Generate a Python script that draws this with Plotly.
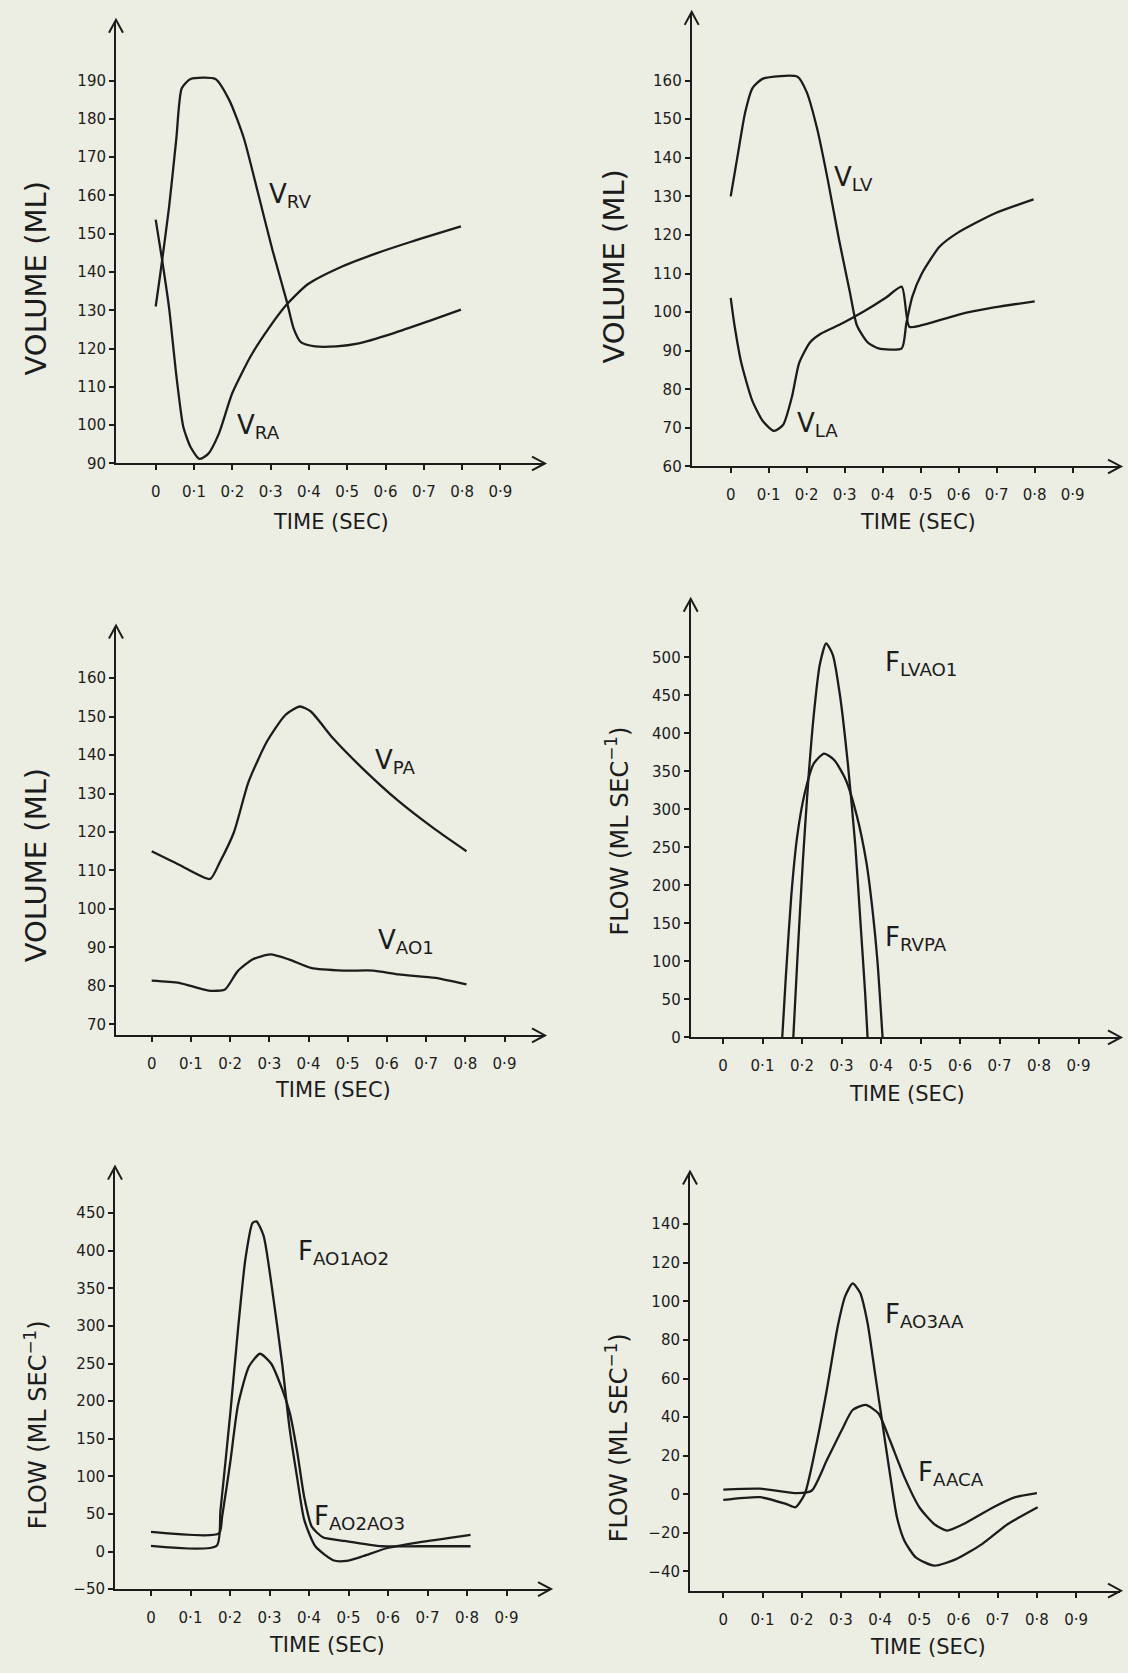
import plotly.graph_objects as go

# ---------------- data ----------------
x_tick_vals = [0, 0.1, 0.2, 0.3, 0.4, 0.5, 0.6, 0.7, 0.8, 0.9]
x_tick_text = ["0", "0·1", "0·2", "0·3", "0·4", "0·5", "0·6", "0·7", "0·8", "0·9"]

# Panel 1: right heart volumes
t_rv = [0, 0.012, 0.035, 0.054, 0.068, 0.091, 0.156, 0.193, 0.23, 0.267, 0.305, 0.342, 0.36, 0.379, 0.416, 0.472, 0.527, 0.62, 0.713, 0.797]
v_rv = [131, 139.5, 157, 175, 188, 190.4, 190.4, 184.7, 175, 160.7, 145.7, 132.4, 125.3, 121.7, 120.6, 120.6, 121.3, 124, 127.2, 130.2]
t_ra = [0, 0.017, 0.035, 0.054, 0.072, 0.091, 0.114, 0.137, 0.165, 0.2, 0.249, 0.295, 0.342, 0.397, 0.481, 0.574, 0.667, 0.797]
v_ra = [153.7, 143, 130.6, 112.9, 99.6, 94.3, 91.2, 92.5, 97.8, 108.4, 118.2, 125.3, 131.5, 136.8, 141.2, 144.8, 147.9, 151.9]
y1_ticks = [90, 100, 110, 120, 130, 140, 150, 160, 170, 180, 190]

# Panel 2: left heart volumes
t_lv = [0, 0.019, 0.038, 0.057, 0.085, 0.176, 0.2, 0.228, 0.256, 0.285, 0.313, 0.332, 0.36, 0.389, 0.45, 0.462, 0.478, 0.503, 0.55, 0.598, 0.693, 0.797]
v_lv = [130, 141, 151.7, 158, 160.5, 161, 157, 147.3, 134, 118.8, 105.5, 96.6, 92.2, 90.6, 90.6, 97, 104, 110, 117, 120.6, 125.5, 129.2]
t_la = [0, 0.01, 0.028, 0.057, 0.085, 0.114, 0.138, 0.161, 0.18, 0.209, 0.237, 0.294, 0.351, 0.408, 0.45, 0.47, 0.503, 0.598, 0.693, 0.8]
v_la = [103.7, 96.6, 86.8, 77, 71.7, 69.2, 70.8, 78, 86.8, 92.2, 94.4, 97.1, 100.2, 103.7, 106.6, 96.2, 96.6, 99.3, 101.2, 102.8]
y2_ticks = [60, 70, 80, 90, 100, 110, 120, 130, 140, 150, 160]

# Panel 3: pulmonary artery / aorta volumes
t_pa = [0, 0.07, 0.149, 0.173, 0.21, 0.247, 0.294, 0.341, 0.378, 0.406, 0.462, 0.537, 0.63, 0.724, 0.803]
v_pa = [115, 111.5, 107.8, 112, 120, 133, 143.5, 150.4, 152.6, 151.3, 144.4, 136.6, 128, 120.6, 115]
t_ao1 = [0, 0.07, 0.145, 0.187, 0.219, 0.257, 0.303, 0.35, 0.406, 0.49, 0.565, 0.63, 0.724, 0.803]
v_ao1 = [81.4, 80.8, 78.8, 79.1, 83.8, 86.9, 88.2, 86.9, 84.7, 84, 84, 83, 82.1, 80.4]
y3_ticks = [70, 80, 90, 100, 110, 120, 130, 140, 150, 160]

# Panel 4: ventricular outflows
t_lvao1 = [0.178, 0.188, 0.202, 0.216, 0.23, 0.245, 0.261, 0.278, 0.297, 0.316, 0.335, 0.349, 0.36, 0.366]
f_lvao1 = [0, 100.5, 230.5, 338.8, 425.5, 490.5, 518.6, 503.5, 447, 360.5, 252.2, 143.8, 57.2, 0]
t_rvpa = [0.15, 0.159, 0.173, 0.188, 0.207, 0.23, 0.256, 0.282, 0.311, 0.339, 0.363, 0.379, 0.391, 0.404]
f_rvpa = [0, 78.9, 187.2, 265.2, 321.5, 360.5, 373.5, 364.8, 338.8, 291.2, 230.5, 165.5, 100.5, 0]
y4_ticks = [0, 50, 100, 150, 200, 250, 300, 350, 400, 450, 500]

# Panel 5: aortic segment flows
t_a12 = [0, 0.166, 0.176, 0.201, 0.22, 0.239, 0.257, 0.267, 0.285, 0.304, 0.332, 0.351, 0.37, 0.388, 0.416, 0.463, 0.5, 0.538, 0.594, 0.678, 0.809]
f_a12 = [7.5, 7.5, 55, 185, 294, 389, 437, 439, 420, 359, 250, 163, 98, 42, 7, -12, -12, -6, 4, 12, 22]
t_a23 = [0, 0.172, 0.18, 0.201, 0.22, 0.248, 0.276, 0.304, 0.332, 0.351, 0.37, 0.388, 0.407, 0.435, 0.491, 0.585, 0.678, 0.809]
f_a23 = [26, 24, 46, 120, 194, 246, 263, 250, 216, 185, 133, 72, 33, 19, 14, 7, 7, 7]
y5_ticks = [-50, 0, 50, 100, 150, 200, 250, 300, 350, 400, 450]
y5_text = ["−50", "0", "50", "100", "150", "200", "250", "300", "350", "400", "450"]

# Panel 6: peripheral flows
t_ao3aa = [0, 0.094, 0.16, 0.184, 0.208, 0.236, 0.264, 0.292, 0.311, 0.33, 0.349, 0.368, 0.387, 0.406, 0.425, 0.443, 0.462, 0.491, 0.538, 0.594, 0.66, 0.726, 0.802]
f_ao3aa = [-2.9, -1.5, -5, -6.7, 0.3, 24.6, 54.1, 87.1, 102.7, 109.3, 104.4, 88.8, 62.8, 36.7, 10.7, -11.9, -24, -32.7, -37, -33.6, -25.8, -15.4, -6.7]
t_aaca = [0, 0.094, 0.189, 0.226, 0.264, 0.302, 0.33, 0.363, 0.396, 0.425, 0.462, 0.5, 0.538, 0.571, 0.613, 0.689, 0.745, 0.8]
f_aaca = [2.4, 2.9, 0.6, 2, 17.6, 33.2, 43.7, 46.3, 41.9, 28, 8.9, -6.7, -15.4, -18.8, -15.4, -6.7, -1.5, 0.6]
y6_ticks = [-40, -20, 0, 20, 40, 60, 80, 100, 120, 140]
y6_text = ["−40", "−20", "0", "20", "40", "60", "80", "100", "120", "140"]

# ---------------- layout helpers ----------------
W, H = 1128, 1673
INK = "#1c1c1c"
BG = "#ECEEE4"
FONT = "DejaVu Sans"

panels = [
    dict(box=(116, 544, 466, 21), x0=155.7, kx=383, yref=(90, 466), ky=3.85,
         yt=y1_ticks, ytt=[str(v) for v in y1_ticks],
         series=[(t_rv, v_rv), (t_ra, v_ra)],
         ytitle="VOLUME (ML)", ytitle_pos=(36, 280), xtitle_pos=(331, 525),
         labels=[("V<sub>RV</sub>", 267, 197), ("V<sub>RA</sub>", 235, 429)]),
    dict(box=(691.7, 1120, 469, 13), x0=730.7, kx=380, yref=(60, 469), ky=3.88,
         yt=y2_ticks, ytt=[str(v) for v in y2_ticks],
         series=[(t_lv, v_lv), (t_la, v_la)],
         ytitle="VOLUME (ML)", ytitle_pos=(614, 268), xtitle_pos=(918, 525),
         labels=[("V<sub>LV</sub>", 832, 179), ("V<sub>LA</sub>", 795, 427)]),
    dict(box=(116, 544, 1041, 630), x0=151.7, kx=392, yref=(70, 1030), ky=3.87,
         yt=y3_ticks, ytt=[str(v) for v in y3_ticks],
         series=[(t_pa, v_pa), (t_ao1, v_ao1)],
         ytitle="VOLUME (ML)", ytitle_pos=(36, 870), xtitle_pos=(333, 1096),
         labels=[("V<sub>PA</sub>", 373, 766), ("V<sub>AO1</sub>", 376, 947)]),
    dict(box=(690.7, 1120, 1043, 603), x0=723, kx=395, yref=(0, 1043), ky=0.764,
         yt=y4_ticks, ytt=[str(v) for v in y4_ticks],
         series=[(t_lvao1, f_lvao1), (t_rvpa, f_rvpa)],
         ytitle="FLOW (ML SEC<sup>−1</sup>)", ytitle_pos=(617, 836), xtitle_pos=(907, 1100),
         labels=[("F<sub>LVAO1</sub>", 883, 667), ("F<sub>RVPA</sub>", 883, 944)]),
    dict(box=(115, 550, 1597.7, 1174), x0=151, kx=395, yref=(-50, 1597.7), ky=0.756,
         yt=y5_ticks, ytt=y5_text,
         series=[(t_a12, f_a12), (t_a23, f_a23)],
         ytitle="FLOW (ML SEC<sup>−1</sup>)", ytitle_pos=(36, 1433), xtitle_pos=(327, 1654),
         labels=[("F<sub>AO1AO2</sub>", 296, 1259), ("F<sub>AO2AO3</sub>", 312, 1526)]),
    dict(box=(690, 1120, 1599.3, 1179), x0=723.3, kx=392, yref=(-40, 1580), ky=1.94,
         yt=y6_ticks, ytt=y6_text,
         series=[(t_ao3aa, f_ao3aa), (t_aaca, f_aaca)],
         ytitle="FLOW (ML SEC<sup>−1</sup>)", ytitle_pos=(617, 1446), xtitle_pos=(928, 1656),
         labels=[("F<sub>AO3AA</sub>", 883, 1323), ("F<sub>AACA</sub>", 916, 1481)]),
]


def px(x, y):
    return f"{x / W:.5f},{1 - y / H:.5f}"


fig = go.Figure()
annotations = []
shapes = []
layout = dict(
    width=W, height=H, margin=dict(l=0, r=0, t=0, b=0),
    paper_bgcolor=BG, plot_bgcolor=BG, showlegend=False,
    font=dict(family=FONT, color=INK),
)

for i, p in enumerate(panels):
    n = i + 1
    xa = "x" if n == 1 else f"x{n}"
    ya = "y" if n == 1 else f"y{n}"
    left, right, bottom, top = p["box"]
    xr = [(left - p["x0"]) / p["kx"], (right - p["x0"]) / p["kx"]]
    yv, ypx = p["yref"]
    yr = [yv - (bottom - ypx) / p["ky"], yv + (ypx - top) / p["ky"]]
    layout[f"xaxis{'' if n == 1 else n}"] = dict(
        domain=[left / W, right / W], range=xr, anchor=ya,
        showgrid=False, zeroline=False, showline=True, linecolor=INK, linewidth=2,
        ticks="outside", ticklen=5, tickwidth=2, tickcolor=INK,
        tickvals=x_tick_vals, ticktext=x_tick_text,
        tickfont=dict(size=15, family=FONT, color=INK), ticklabelstandoff=9,
    )
    layout[f"yaxis{'' if n == 1 else n}"] = dict(
        domain=[1 - bottom / H, 1 - top / H], range=yr, anchor=xa,
        showgrid=False, zeroline=False, showline=True, linecolor=INK, linewidth=2,
        ticks="outside", ticklen=5, tickwidth=2, tickcolor=INK,
        tickvals=p["yt"], ticktext=p["ytt"],
        tickfont=dict(size=15, family=FONT, color=INK),
    )
    for tx, ty in p["series"]:
        fig.add_trace(go.Scatter(
            x=tx, y=ty, mode="lines", xaxis=xa, yaxis=ya,
            line=dict(color=INK, width=2.3, shape="spline", smoothing=0.6),
            hoverinfo="skip",
        ))
    # open chevron arrowheads at the axis ends
    shapes.append(dict(type="path", xref="paper", yref="paper",
                       path=f"M{px(right - 12, bottom - 7)} L{px(right + 1, bottom)} L{px(right - 12, bottom + 7)}",
                       line=dict(color=INK, width=2)))
    shapes.append(dict(type="path", xref="paper", yref="paper",
                       path=f"M{px(left - 7, top + 12)} L{px(left, top - 1)} L{px(left + 7, top + 12)}",
                       line=dict(color=INK, width=2)))
    tx_, ty_ = p["ytitle_pos"]
    annotations.append(dict(
        xref="paper", yref="paper", x=tx_ / W, y=1 - ty_ / H, text=p["ytitle"],
        textangle=-90, showarrow=False, xanchor="center", yanchor="middle",
        font=dict(size=29 if "VOLUME" in p["ytitle"] else 24, family=FONT, color=INK),
    ))
    tx_, ty_ = p["xtitle_pos"]
    annotations.append(dict(
        xref="paper", yref="paper", x=tx_ / W, y=1 - ty_ / H, text="TIME (SEC)",
        showarrow=False, xanchor="center", yanchor="middle",
        font=dict(size=21, family=FONT, color=INK),
    ))
    for txt, lx, ly in p["labels"]:
        annotations.append(dict(
            xref="paper", yref="paper", x=lx / W, y=1 - ly / H, text=txt,
            showarrow=False, xanchor="left", yanchor="middle",
            font=dict(size=26, family=FONT, color=INK),
        ))

layout["annotations"] = annotations
layout["shapes"] = shapes
fig.update_layout(**layout)
fig.write_html(
    "out.html",
    config={"displayModeBar": False},
    post_script="document.body.style.margin='0';document.body.style.padding='0';"
                "document.body.style.background='#ECEEE4';",
)
